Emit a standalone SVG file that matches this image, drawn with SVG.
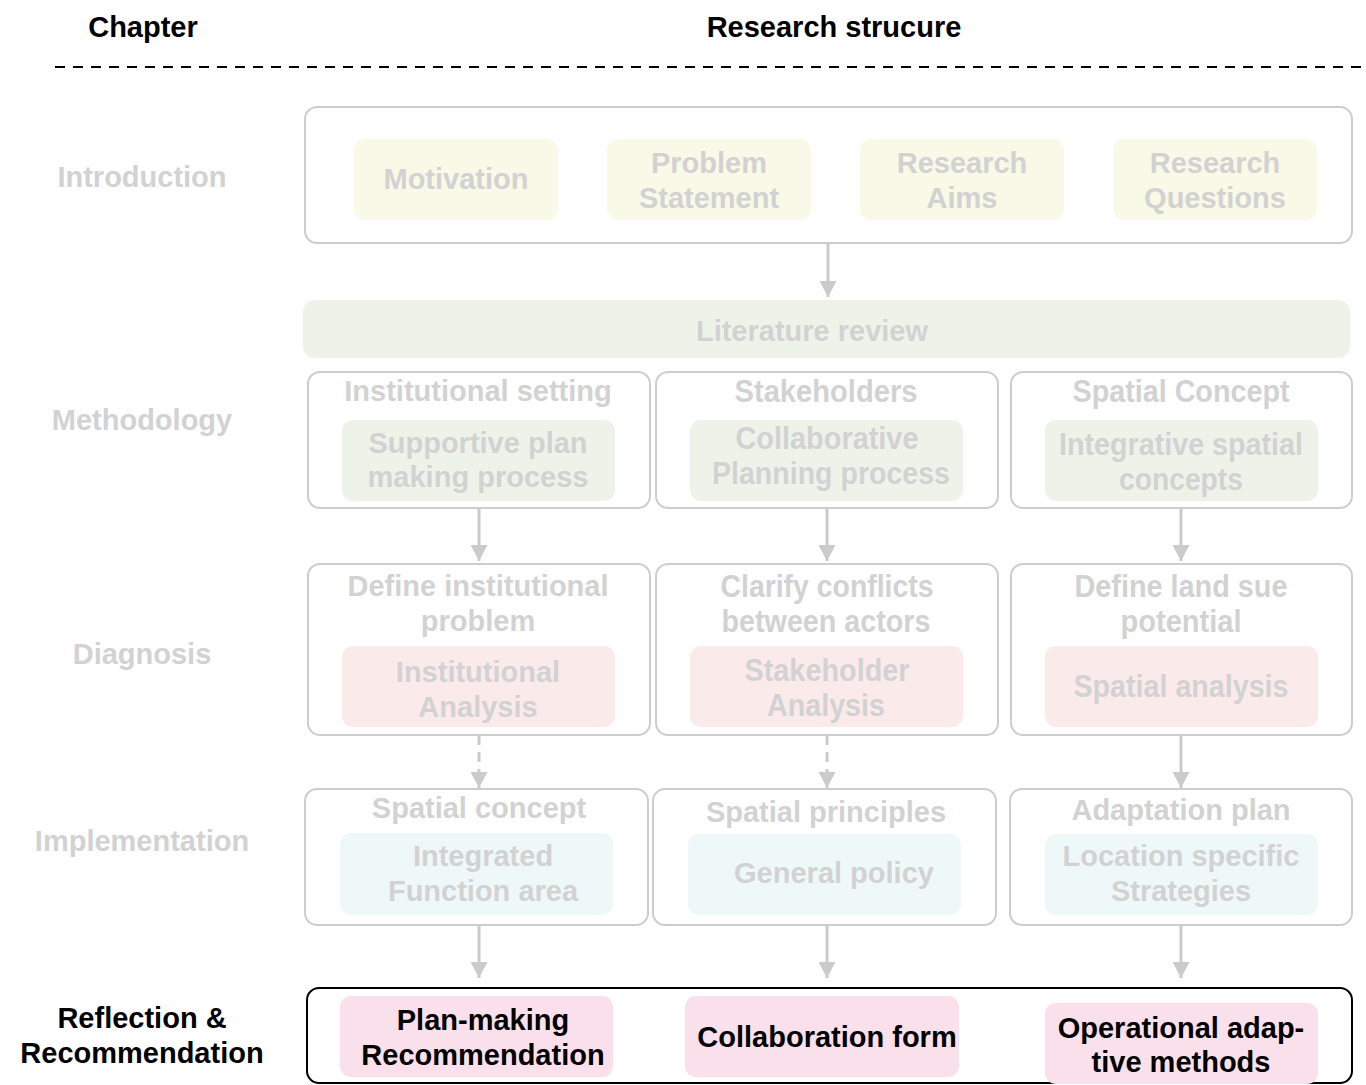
<svg xmlns="http://www.w3.org/2000/svg" width="1366" height="1085" viewBox="0 0 1366 1085">
<style>
text{font-family:"Liberation Sans",Arial,sans-serif;font-weight:bold;text-anchor:middle}
.hd{font-size:29px;fill:#000}
.ch{font-size:29px;fill:#d2d2d2}
.chb{font-size:29px;fill:#000}
.g{font-size:29px;fill:#d2d2d2}
.n{font-size:31px;fill:#d2d2d2}
.b{font-size:29px;fill:#000}
.frame{fill:#fff;stroke:#cdcdcd;stroke-width:2}
.yel{fill:#f8f9e6}
.grn{fill:#eef3ea}
.red{fill:#fbeaea}
.cyn{fill:#eff8f8}
.pnk{fill:#f9e0ea}
.conn{stroke:#cbcbcb;stroke-width:3;fill:none}
.dash{stroke-dasharray:10 7}
</style>
<defs>
<marker id="ah" markerUnits="userSpaceOnUse" markerWidth="17" markerHeight="17" refX="16" refY="8.5" orient="auto">
<path d="M0,0 L16,8.5 L0,17 z" fill="#cbcbcb"/>
</marker>
</defs>

<g id="header">
<text class="hd" x="143" y="37">Chapter</text>
<text class="hd" x="834" y="37">Research strucure</text>
<line x1="55" y1="67" x2="1366" y2="67" stroke="#000" stroke-width="2" stroke-dasharray="10 8"/>
</g>

<g id="chapters">
<text class="ch" x="142" y="187">Introduction</text>
<text class="ch" x="142" y="430">Methodology</text>
<text class="ch" x="142" y="664">Diagnosis</text>
<text class="ch" x="142" y="851">Implementation</text>
<text class="chb" x="142" y="1028">Reflection &amp;</text>
<text class="chb" x="142" y="1063">Recommendation</text>
</g>

<g id="introduction">
<rect class="frame" x="305" y="107" width="1047" height="136" rx="12"/>
<g id="motivation"><rect class="yel" x="354" y="139" width="204" height="81" rx="11"/><text class="g" x="456" y="189">Motivation</text></g>
<g id="problem"><rect class="yel" x="607" y="139" width="204" height="81" rx="11"/><text class="g" x="709" y="173">Problem</text><text class="g" x="709" y="208">Statement</text></g>
<g id="aims"><rect class="yel" x="860" y="139" width="204" height="81" rx="11"/><text class="g" x="962" y="173">Research</text><text class="g" x="962" y="208">Aims</text></g>
<g id="questions"><rect class="yel" x="1113" y="139" width="204" height="81" rx="11"/><text class="g" x="1215" y="173">Research</text><text class="g" x="1215" y="208">Questions</text></g>
</g>

<g id="literature">
<rect class="grn" x="303" y="300" width="1047" height="58" rx="12"/>
<text class="g" x="812" y="341">Literature review</text>
</g>

<g id="meth-institutional">
<rect class="frame" x="308" y="372" width="342" height="136" rx="12"/>
<text class="g" x="478" y="401">Institutional setting</text>
<rect class="grn" x="342" y="420" width="273" height="81" rx="11"/>
<text class="g" x="478" y="453">Supportive plan</text>
<text class="g" x="478" y="487">making process</text>
</g>
<g id="meth-stakeholders">
<rect class="frame" x="656" y="372" width="342" height="136" rx="12"/>
<text class="n" x="826" y="402" textLength="183" lengthAdjust="spacingAndGlyphs">Stakeholders</text>
<rect class="grn" x="690" y="420" width="273" height="81" rx="11"/>
<text class="n" x="827" y="449" textLength="183" lengthAdjust="spacingAndGlyphs">Collaborative</text>
<text class="n" x="831" y="484" textLength="238" lengthAdjust="spacingAndGlyphs">Planning process</text>
</g>
<g id="meth-spatial">
<rect class="frame" x="1011" y="372" width="341" height="136" rx="12"/>
<text class="n" x="1181" y="402" textLength="217" lengthAdjust="spacingAndGlyphs">Spatial Concept</text>
<rect class="grn" x="1045" y="420" width="273" height="81" rx="11"/>
<text class="n" x="1181" y="455" textLength="244" lengthAdjust="spacingAndGlyphs">Integrative spatial</text>
<text class="n" x="1181" y="490" textLength="124" lengthAdjust="spacingAndGlyphs">concepts</text>
</g>

<g id="diag-institutional">
<rect class="frame" x="308" y="564" width="342" height="171" rx="12"/>
<text class="g" x="478" y="596">Define institutional</text>
<text class="g" x="478" y="631">problem</text>
<rect class="red" x="342" y="646" width="273" height="81" rx="11"/>
<text class="g" x="478" y="682">Institutional</text>
<text class="g" x="478" y="717">Analysis</text>
</g>
<g id="diag-stakeholder">
<rect class="frame" x="656" y="564" width="342" height="171" rx="12"/>
<text class="n" x="827" y="597" textLength="213" lengthAdjust="spacingAndGlyphs">Clarify conflicts</text>
<text class="n" x="826" y="632" textLength="209" lengthAdjust="spacingAndGlyphs">between actors</text>
<rect class="red" x="690" y="646" width="273" height="81" rx="11"/>
<text class="n" x="827" y="681" textLength="165" lengthAdjust="spacingAndGlyphs">Stakeholder</text>
<text class="n" x="826" y="716" textLength="118" lengthAdjust="spacingAndGlyphs">Analysis</text>
</g>
<g id="diag-spatial">
<rect class="frame" x="1011" y="564" width="341" height="171" rx="12"/>
<text class="n" x="1181" y="597" textLength="213" lengthAdjust="spacingAndGlyphs">Define land sue</text>
<text class="n" x="1181" y="632" textLength="121" lengthAdjust="spacingAndGlyphs">potential</text>
<rect class="red" x="1045" y="646" width="273" height="81" rx="11"/>
<text class="n" x="1181" y="697" textLength="215" lengthAdjust="spacingAndGlyphs">Spatial analysis</text>
</g>

<g id="impl-concept">
<rect class="frame" x="305" y="789" width="343" height="136" rx="12"/>
<text class="g" x="479" y="818">Spatial concept</text>
<rect class="cyn" x="340" y="833" width="273" height="82" rx="11"/>
<text class="g" x="483" y="866">Integrated</text>
<text class="g" x="483" y="901">Function area</text>
</g>
<g id="impl-principles">
<rect class="frame" x="653" y="789" width="343" height="136" rx="12"/>
<text class="g" x="826" y="822">Spatial principles</text>
<rect class="cyn" x="688" y="834" width="273" height="81" rx="11"/>
<text class="g" x="834" y="883">General policy</text>
</g>
<g id="impl-adaptation">
<rect class="frame" x="1010" y="789" width="342" height="136" rx="12"/>
<text class="g" x="1181" y="820">Adaptation plan</text>
<rect class="cyn" x="1045" y="834" width="273" height="81" rx="11"/>
<text class="g" x="1181" y="866">Location specific</text>
<text class="g" x="1181" y="901">Strategies</text>
</g>

<g id="reflection">
<rect x="307" y="988" width="1045" height="95" rx="12" fill="#fff" stroke="#000" stroke-width="2"/>
<g id="plan-making"><rect class="pnk" x="340" y="996" width="273" height="81" rx="11"/><text class="b" x="483" y="1030">Plan-making</text><text class="b" x="483" y="1065">Recommendation</text></g>
<g id="collaboration"><rect class="pnk" x="685" y="996" width="274" height="81" rx="11"/><text class="b" x="827" y="1047">Collaboration form</text></g>
<g id="operational"><rect class="pnk" x="1045" y="1003" width="273" height="81" rx="11"/><text class="b" x="1181" y="1038">Operational adap-</text><text class="b" x="1181" y="1072">tive methods</text></g>
</g>

<g id="connectors">
<line class="conn" x1="828" y1="243" x2="828" y2="297" marker-end="url(#ah)"/>
<line class="conn" x1="479" y1="508" x2="479" y2="561" marker-end="url(#ah)"/>
<line class="conn" x1="827" y1="508" x2="827" y2="561" marker-end="url(#ah)"/>
<line class="conn" x1="1181" y1="508" x2="1181" y2="561" marker-end="url(#ah)"/>
<line class="conn dash" x1="479" y1="735" x2="479" y2="788" marker-end="url(#ah)"/>
<line class="conn dash" x1="827" y1="735" x2="827" y2="788" marker-end="url(#ah)"/>
<line class="conn" x1="1181" y1="735" x2="1181" y2="788" marker-end="url(#ah)"/>
<line class="conn" x1="479" y1="925" x2="479" y2="978" marker-end="url(#ah)"/>
<line class="conn" x1="827" y1="925" x2="827" y2="978" marker-end="url(#ah)"/>
<line class="conn" x1="1181" y1="925" x2="1181" y2="978" marker-end="url(#ah)"/>
</g>
</svg>
